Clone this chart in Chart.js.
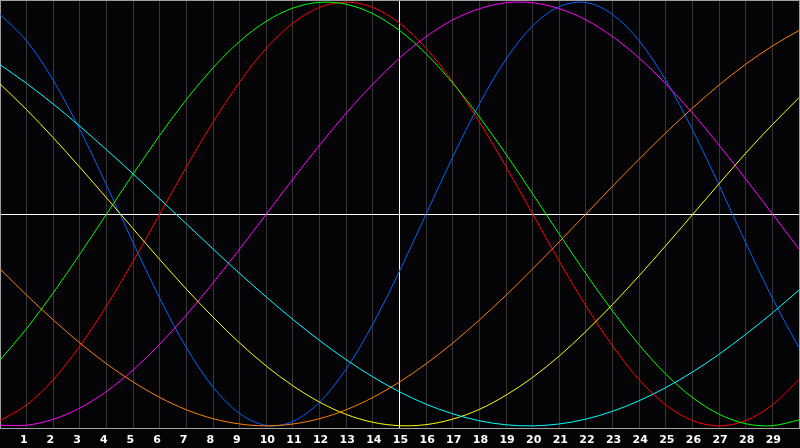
<!DOCTYPE html>
<html>
<head>
<meta charset="utf-8">
<script src="https://cdn.jsdelivr.net/npm/chart.js@4.4.1/dist/chart.umd.min.js"></script>
<style>
  html, body { margin: 0; padding: 0; background: #040407; }
  canvas { display: block; }
</style>
</head>
<body>
<canvas id="bioChart" width="800" height="448"></canvas>
<script>
'use strict';

//***********Data***********
let days = [0, 1, 2, 3, 4, 5, 6, 7, 8, 9, 10, 11, 12, 13, 14, 15, 16, 17, 18, 19, 20, 21, 22, 23, 24, 25, 26, 27, 28, 29, 30];

let blueValues = [0.942, 0.817, 0.631, 0.398, 0.136, -0.136, -0.398, -0.631, -0.817, -0.942, -0.998, -0.979, -0.888, -0.731, -0.520, -0.270, 0, 0.270, 0.520, 0.731, 0.888, 0.979, 0.998, 0.942, 0.817, 0.631, 0.398, 0.136, -0.136, -0.398, -0.631];
let redValues = [-0.975, -0.901, -0.782, -0.623, -0.434, -0.223, 0, 0.223, 0.434, 0.623, 0.782, 0.901, 0.975, 1, 0.975, 0.901, 0.782, 0.623, 0.434, 0.223, 0, -0.223, -0.434, -0.623, -0.782, -0.901, -0.975, -1, -0.975, -0.901, -0.782];
let greenValues = [-0.690, -0.541, -0.372, -0.189, 0, 0.189, 0.372, 0.541, 0.690, 0.815, 0.910, 0.972, 0.999, 0.990, 0.945, 0.866, 0.756, 0.618, 0.458, 0.282, 0.095, -0.095, -0.282, -0.458, -0.618, -0.756, -0.866, -0.945, -0.990, -0.999, -0.972];
let magentaValues = [-0.997, -0.997, -0.969, -0.916, -0.837, -0.736, -0.614, -0.476, -0.325, -0.165, 0, 0.165, 0.325, 0.476, 0.614, 0.736, 0.837, 0.916, 0.969, 0.997, 0.997, 0.969, 0.916, 0.837, 0.736, 0.614, 0.476, 0.325, 0.165, 0, -0.165];
let yellowValues = [0.614, 0.492, 0.360, 0.220, 0.076, -0.070, -0.215, -0.355, -0.487, -0.609, -0.718, -0.811, -0.888, -0.946, -0.983, -0.999, -0.994, -0.968, -0.922, -0.855, -0.771, -0.670, -0.554, -0.427, -0.291, -0.149, -0.003, 0.143, 0.287, 0.422, 0.549];
let orangeValues = [-0.259, -0.383, -0.5, -0.609, -0.707, -0.793, -0.866, -0.924, -0.966, -0.991, -1, -0.991, -0.966, -0.924, -0.866, -0.793, -0.707, -0.609, -0.5, -0.383, -0.259, -0.131, 0, 0.131, 0.259, 0.383, 0.5, 0.609, 0.707, 0.793, 0.866];
let cyanValues = [0.705, 0.616, 0.519, 0.414, 0.303, 0.189, 0.071, -0.047, -0.165, -0.281, -0.392, -0.498, -0.597, -0.688, -0.769, -0.839, -0.898, -0.943, -0.976, -0.995, -1.000, -0.991, -0.968, -0.931, -0.881, -0.819, -0.746, -0.662, -0.568, -0.467, -0.359];

let yMin = -1.01;
let yMax = 1.01;

//***********Helpers***********
function makeLine(values, color) {
  return {
    data: values,
    borderColor: color,
    borderWidth: 1,
    pointRadius: 0,
    tension: 0.33,
    fill: false
  };
}

// day labels: single digits get trailing spaces so they sit left of the grid line
function dayLabel(value, index) {
  if (index === 0 || index === days.length - 1) {
    return '';
  }
  let d = days[index];
  return d < 10 ? d + '  ' : String(d);
}

//***********Chart***********
let ctx = document.getElementById('bioChart').getContext('2d');

new Chart(ctx, {
  type: 'line',
  data: {
    labels: days,
    datasets: [
      makeLine(orangeValues, '#ff8000'),
      makeLine(cyanValues, '#00ffff'),
      makeLine(yellowValues, '#ffff00'),
      makeLine(magentaValues, '#ff00ff'),
      makeLine(greenValues, '#00ff00'),
      makeLine(redValues, '#ff0000'),
      makeLine(blueValues, '#0064ff')
    ]
  },
  options: {
    responsive: false,
    animation: false,
    layout: { padding: { left: 0, right: 1, top: 0, bottom: 0 } },
    plugins: {
      legend: { display: false },
      tooltip: { enabled: false }
    },
    scales: {
      x: {
        offset: false,
        afterFit: function (axis) {
          axis.height = 20;
          axis.paddingLeft = 0;
          axis.paddingRight = 0;
        },
        grid: {
          drawTicks: false,
          color: function (c) {
            if (c.index === 15) return '#ffffff';
            if (c.index === 0 || c.index === days.length - 1) return '#a0a0a0';
            return '#363636';
          }
        },
        border: { color: '#a0a0a0' },
        ticks: {
          autoSkip: false,
          maxRotation: 0,
          padding: 6,
          labelOffset: 1,
          color: '#ffffff',
          font: { family: 'DejaVu Sans', size: 11, weight: 'bold' },
          callback: dayLabel
        }
      },
      y: {
        min: yMin,
        max: yMax,
        afterFit: function (axis) {
          axis.width = 0;
          axis.paddingTop = 0;
          axis.paddingBottom = 0;
        },
        afterBuildTicks: function (axis) {
          axis.ticks = [{ value: yMin }, { value: 0 }, { value: yMax }];
        },
        grid: {
          drawTicks: false,
          color: function (c) {
            return c.tick.value === 0 ? '#ffffff' : '#a0a0a0';
          }
        },
        border: { color: '#a0a0a0' },
        ticks: { display: false }
      }
    }
  }
});
</script>
</body>
</html>
